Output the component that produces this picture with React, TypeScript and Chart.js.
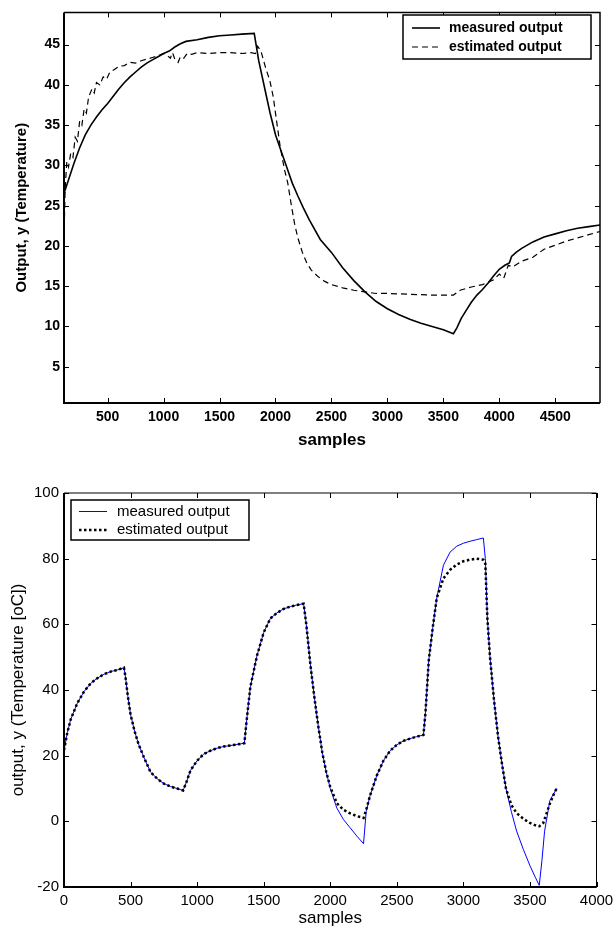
import React, { useEffect, useRef } from "react";
import { Chart, registerables } from "chart.js";

Chart.register(...registerables);

// ---------- Top chart data ----------
const TOP_X_TICKS = [500, 1000, 1500, 2000, 2500, 3000, 3500, 4000, 4500];
const TOP_Y_TICKS = [5, 10, 15, 20, 25, 30, 35, 40, 45];
const TOP_LABELS = ["measured output", "estimated output"];

const TOP_MEASURED_X = [
  110, 150, 200, 250, 300, 350, 400, 450, 500, 550, 600, 650, 700, 750, 800, 850, 900, 950, 1000,
  1050, 1100, 1150, 1200, 1300, 1400, 1500, 1600, 1700, 1810, 1850, 1900, 1950, 2000, 2050, 2100,
  2150, 2200, 2250, 2300, 2400, 2500, 2600, 2700, 2800, 2900, 3000, 3100, 3200, 3300, 3400, 3500,
  3590, 3620, 3660, 3700, 3750, 3800, 3850, 3900, 3950, 4000, 4050, 4090, 4110, 4150, 4200, 4300,
  4400, 4500, 4600, 4700, 4800, 4900,
];
const TOP_MEASURED_Y = [
  26.5, 28.2, 30.3, 32.2, 33.8, 35.0, 36.0, 36.9, 37.7, 38.6, 39.5, 40.3, 41.0, 41.6, 42.2, 42.7,
  43.1, 43.5, 43.9, 44.2, 44.7, 45.1, 45.4, 45.6, 45.9, 46.1, 46.2, 46.3, 46.4, 43.0, 39.8, 36.6,
  33.8, 31.8, 29.8, 27.8, 26.2, 24.7, 23.3, 20.8, 19.2, 17.3, 15.7, 14.3, 13.1, 12.2, 11.5, 10.9,
  10.4, 10.0, 9.6, 9.1, 9.8, 11.0, 11.9, 13.0, 13.9, 14.6, 15.4, 16.3, 17.1, 17.6, 17.9, 18.7, 19.2,
  19.7, 20.5, 21.1, 21.5, 21.9, 22.2, 22.4, 22.6,
];

const TOP_ESTIMATED_X = [
  110, 120, 135, 150, 170, 190, 210, 230, 250, 270, 290, 310, 330, 360, 380, 400, 430, 460, 490,
  520, 560, 600, 650, 700, 750, 800, 850, 900, 950, 1000, 1030, 1060, 1080, 1100, 1130, 1150, 1180,
  1210, 1250, 1300, 1400, 1500, 1600, 1700, 1780, 1820, 1840, 1870, 1910, 1950, 1980, 2010, 2040,
  2080, 2110, 2140, 2170, 2200, 2240, 2280, 2320, 2380, 2440, 2500, 2600, 2700, 2800, 2900, 3000,
  3200, 3400, 3590, 3650, 3750, 3850, 3950, 4000, 4040, 4060, 4080, 4120, 4200, 4300, 4400, 4500,
  4600, 4700, 4800, 4900,
];
const TOP_ESTIMATED_Y = [
  21.0, 27.0, 30.5, 29.8, 31.5, 31.0, 33.5, 33.0, 35.5, 35.0, 37.0, 36.5, 38.5, 39.5, 39.0, 40.3,
  40.0, 41.0, 40.7, 41.6, 41.9, 42.3, 42.4, 42.8, 42.7, 43.0, 43.2, 43.4, 43.6, 43.9, 43.7, 43.3,
  44.0, 43.2, 42.8, 43.5, 43.3, 43.9, 43.8, 44.0, 43.9, 44.0, 44.0, 43.9, 44.0, 43.9, 44.8, 44.2,
  42.2, 40.5, 38.5, 35.5, 32.5, 29.5, 27.8, 25.2, 22.8, 21.0, 19.2, 17.9, 17.0, 16.2, 15.6, 15.2,
  14.8, 14.5, 14.3, 14.1, 14.1, 14.0, 13.9, 13.9, 14.5, 14.9, 15.2, 15.8, 16.5, 16.0, 16.8, 17.6,
  17.4, 18.1, 18.6, 19.6, 20.1, 20.6, 21.0, 21.4, 21.8,
];

// ---------- Bottom chart data ----------
const BOT_X_TICKS = [0, 500, 1000, 1500, 2000, 2500, 3000, 3500, 4000];
const BOT_Y_TICKS = [-20, 0, 20, 40, 60, 80, 100];
const BOT_LABELS = ["measured output", "estimated output"];

const BOT_MEASURED_X = [
  0, 25, 50, 100, 150, 200, 250, 300, 350, 400, 450, 460, 480, 500, 530, 560, 600, 650, 700, 750,
  800, 850, 895, 920, 950, 1000, 1050, 1100, 1150, 1200, 1300, 1355, 1370, 1400, 1450, 1500, 1550,
  1600, 1650, 1700, 1750, 1800, 1820, 1850, 1880, 1910, 1940, 1970, 2000, 2050, 2100, 2150, 2200,
  2250, 2270, 2300, 2350, 2400, 2450, 2500, 2550, 2600, 2650, 2700, 2715, 2740, 2770, 2800, 2850,
  2900, 2950, 3000, 3050, 3100, 3150, 3165, 3180, 3200, 3230, 3260, 3290, 3320, 3360, 3400, 3450,
  3500, 3540, 3570, 3590, 3610, 3650, 3680, 3700,
];
const BOT_MEASURED_Y = [
  21.7, 27, 31, 36, 39.5, 42, 43.6, 44.8, 45.6, 46.1, 46.8, 44.5, 38, 32.5, 27.5, 23.5, 19.5, 15,
  13, 11.5, 10.6, 10, 9.4, 12, 15.5, 18.5, 20.5, 21.5, 22.3, 22.8, 23.4, 23.8, 30, 41, 50.5, 57.5,
  61.8, 63.5, 64.7, 65.4, 65.9, 66.3, 60, 48, 38, 29, 21, 15, 10, 4, 0.5, -2, -4.5, -6.8, 3, 8, 14,
  18.5, 21.5, 23.3, 24.5, 25.2, 25.8, 26.3, 33, 49, 59, 68, 78, 82, 83.8, 84.7, 85.3, 85.8, 86.3,
  80, 62, 50, 37, 26, 17.5, 10, 3, -3, -8.5, -13.5, -17, -19.5, -12, -3, 6.4, 8.5, 10,
];

const BOT_ESTIMATED_X = [
  0, 25, 50, 100, 150, 200, 250, 300, 350, 400, 450, 460, 480, 500, 530, 560, 600, 650, 700, 750,
  800, 850, 895, 920, 950, 1000, 1050, 1100, 1150, 1200, 1300, 1355, 1370, 1400, 1450, 1500, 1550,
  1600, 1650, 1700, 1750, 1800, 1820, 1850, 1880, 1910, 1940, 1970, 2000, 2050, 2100, 2150, 2200,
  2250, 2270, 2300, 2350, 2400, 2450, 2500, 2550, 2600, 2650, 2700, 2715, 2740, 2770, 2800, 2850,
  2900, 2950, 3000, 3050, 3100, 3150, 3165, 3180, 3200, 3230, 3260, 3290, 3320, 3360, 3400, 3450,
  3500, 3550, 3570, 3600, 3650, 3680, 3700,
];
const BOT_ESTIMATED_Y = [
  21.7, 27, 31, 36, 39.5, 42, 43.6, 44.8, 45.6, 46.1, 46.8, 44.5, 38, 32.5, 27.5, 23.5, 19.5, 15,
  13, 11.5, 10.6, 10, 9.4, 12, 15.5, 18.5, 20.5, 21.5, 22.3, 22.8, 23.4, 23.8, 30, 41, 50.5, 57.5,
  61.8, 63.5, 64.7, 65.4, 65.9, 66.3, 60, 48, 38, 29, 21, 15, 10.5, 5.5, 3.5, 2.4, 1.6, 1.0, 3.5, 8,
  14, 18.5, 21.5, 23.3, 24.5, 25.2, 25.8, 26.3, 33, 49, 59, 68, 74, 76.6, 78.2, 79.2, 79.7, 80,
  79.7, 78.5, 62, 50, 37, 26, 17.5, 10, 5, 2.5, 0.8, -0.5, -1.4, -1.5, -0.5, 5.4, 8.3, 10,
];

const pts = (xs: number[], ys: number[]) => xs.map((x, i) => ({ x, y: ys[i] }));
const FAMILY = "'Liberation Sans', Arial, Helvetica, sans-serif";

const frameTicksPlugin = {
  id: "frameTicks",
  afterDatasetsDraw(chart: any, _args: any, opts: any) {
    const { ctx, chartArea } = chart;
    const { left, right, top, bottom } = chartArea;
    const xs = chart.scales.x;
    const ys = chart.scales.y;
    const len = opts.tickLen;
    ctx.save();
    ctx.strokeStyle = "#000";
    ctx.setLineDash([]);
    ctx.lineWidth = opts.tickWidth;
    ctx.beginPath();
    xs.ticks.forEach((t: any) => {
      const p = Math.round(xs.getPixelForValue(t.value)) + 0.5;
      ctx.moveTo(p, bottom);
      ctx.lineTo(p, bottom - len);
      ctx.moveTo(p, top);
      ctx.lineTo(p, top + len);
    });
    ys.ticks.forEach((t: any) => {
      const p = Math.round(ys.getPixelForValue(t.value)) + 0.5;
      ctx.moveTo(left, p);
      ctx.lineTo(left + len, p);
      ctx.moveTo(right, p);
      ctx.lineTo(right - len, p);
    });
    ctx.stroke();
    ctx.lineWidth = opts.thin;
    ctx.beginPath();
    ctx.moveTo(left, top);
    ctx.lineTo(right, top);
    ctx.lineTo(right, bottom);
    ctx.stroke();
    ctx.lineWidth = opts.thick;
    ctx.beginPath();
    ctx.moveTo(left, top);
    ctx.lineTo(left, bottom);
    ctx.lineTo(right, bottom);
    ctx.stroke();
    ctx.restore();
  },
};

const boxLegendPlugin = {
  id: "boxLegend",
  afterDraw(chart: any, _args: any, opts: any) {
    const { ctx } = chart;
    const { box, lineX0, lineX1, textX, rowY, font, boxWidth } = opts;
    ctx.save();
    ctx.fillStyle = "#fff";
    ctx.fillRect(box.x, box.y, box.w, box.h);
    ctx.strokeStyle = "#000";
    ctx.lineWidth = boxWidth;
    ctx.setLineDash([]);
    ctx.strokeRect(box.x, box.y, box.w, box.h);
    chart.data.datasets.forEach((ds: any, i: number) => {
      const y = rowY[i];
      ctx.setLineDash(ds.borderDash || []);
      ctx.strokeStyle = ds.borderColor;
      ctx.lineWidth = ds.borderWidth;
      ctx.beginPath();
      ctx.moveTo(lineX0, y);
      ctx.lineTo(lineX1, y);
      ctx.stroke();
      ctx.setLineDash([]);
      ctx.fillStyle = "#000";
      ctx.font = font;
      ctx.textBaseline = "middle";
      ctx.textAlign = "left";
      ctx.fillText(ds.label, textX, y);
    });
    ctx.restore();
  },
};

function makeTopConfig(): any {
  const tickFont = { family: FAMILY, size: 14, weight: "bold" };
  return {
    type: "line",
    data: {
      datasets: [
        {
          label: TOP_LABELS[0],
          data: pts(TOP_MEASURED_X, TOP_MEASURED_Y),
          borderColor: "#000",
          borderWidth: 1.6,
          pointRadius: 0,
          tension: 0,
          order: 0,
        },
        {
          label: TOP_LABELS[1],
          data: pts(TOP_ESTIMATED_X, TOP_ESTIMATED_Y),
          borderColor: "#000",
          borderWidth: 1.2,
          borderDash: [6, 4],
          pointRadius: 0,
          tension: 0,
          order: 1,
        },
      ],
    },
    options: {
      responsive: false,
      animation: false,
      devicePixelRatio: 1,
      layout: { padding: { left: 0, right: 13, top: 10, bottom: 0 } },
      plugins: {
        legend: { display: false },
        tooltip: { enabled: false },
        frameTicks: { tickLen: 5, tickWidth: 1, thin: 1.5, thick: 2 },
        boxLegend: {
          box: { x: 403, y: 15, w: 188, h: 44 },
          lineX0: 412,
          lineX1: 440,
          textX: 449,
          rowY: [28, 47],
          font: `bold 14px ${FAMILY}`,
          boxWidth: 1.5,
        },
      },
      scales: {
        x: {
          type: "linear",
          min: 110,
          max: 4900,
          afterBuildTicks: (s: any) => {
            s.ticks = TOP_X_TICKS.map((v) => ({ value: v }));
          },
          afterFit: (s: any) => {
            s.height = 52;
            s.paddingLeft = 0;
            s.paddingRight = 0;
          },
          grid: { display: false, drawTicks: false },
          border: { display: false },
          ticks: {
            color: "#000",
            padding: 6,
            autoSkip: false,
            maxRotation: 0,
            font: tickFont,
            callback: (v: any) => String(v),
          },
          title: {
            display: true,
            text: "samples",
            color: "#000",
            font: { family: FAMILY, size: 17, weight: "bold" },
            padding: { top: 0, bottom: 4 },
          },
        },
        y: {
          type: "linear",
          min: 0.5,
          max: 49,
          afterBuildTicks: (s: any) => {
            s.ticks = TOP_Y_TICKS.map((v) => ({ value: v }));
          },
          afterFit: (s: any) => {
            s.width = 64;
          },
          grid: { display: false, drawTicks: false },
          border: { display: false },
          ticks: {
            color: "#000",
            padding: 4,
            autoSkip: false,
            font: tickFont,
            callback: (v: any) => String(v),
          },
          title: {
            display: true,
            text: "Output, y (Temperature)",
            color: "#000",
            font: { family: FAMILY, size: 15, weight: "bold" },
            padding: { top: 13, bottom: 0 },
          },
        },
      },
    },
    plugins: [frameTicksPlugin, boxLegendPlugin],
  };
}

function makeBottomConfig(): any {
  const tickFont = { family: FAMILY, size: 15 };
  return {
    type: "line",
    data: {
      datasets: [
        {
          label: BOT_LABELS[0],
          data: pts(BOT_MEASURED_X, BOT_MEASURED_Y),
          borderColor: "#0000ff",
          borderWidth: 1,
          pointRadius: 0,
          tension: 0,
          order: 1,
        },
        {
          label: BOT_LABELS[1],
          data: pts(BOT_ESTIMATED_X, BOT_ESTIMATED_Y),
          borderColor: "#000",
          borderWidth: 2.5,
          borderDash: [2.5, 2.5],
          pointRadius: 0,
          tension: 0,
          order: 0,
        },
      ],
    },
    options: {
      responsive: false,
      animation: false,
      devicePixelRatio: 1,
      layout: { padding: { left: 0, right: 16.5, top: 38, bottom: 0 } },
      plugins: {
        legend: { display: false },
        tooltip: { enabled: false },
        frameTicks: { tickLen: 5, tickWidth: 1, thin: 1, thick: 2 },
        boxLegend: {
          box: { x: 71, y: 45, w: 178, h: 40 },
          lineX0: 79,
          lineX1: 107,
          textX: 117,
          rowY: [56.5, 75],
          font: `15px ${FAMILY}`,
          boxWidth: 1.5,
        },
      },
      scales: {
        x: {
          type: "linear",
          min: 0,
          max: 4000,
          afterBuildTicks: (s: any) => {
            s.ticks = BOT_X_TICKS.map((v) => ({ value: v }));
          },
          afterFit: (s: any) => {
            s.height = 42;
            s.paddingLeft = 0;
            s.paddingRight = 0;
          },
          grid: { display: false, drawTicks: false },
          border: { display: false },
          ticks: {
            color: "#000",
            padding: 5,
            autoSkip: false,
            maxRotation: 0,
            font: tickFont,
            callback: (v: any) => String(v),
          },
          title: {
            display: true,
            text: "samples",
            color: "#000",
            font: { family: FAMILY, size: 17 },
            padding: { top: 0, bottom: 0 },
          },
        },
        y: {
          type: "linear",
          min: -20,
          max: 100,
          afterBuildTicks: (s: any) => {
            s.ticks = BOT_Y_TICKS.map((v) => ({ value: v }));
          },
          afterFit: (s: any) => {
            s.width = 64;
          },
          grid: { display: false, drawTicks: false },
          border: { display: false },
          ticks: {
            color: "#000",
            padding: 5,
            autoSkip: false,
            font: tickFont,
            callback: (v: any) => String(v),
          },
          title: {
            display: true,
            text: "output, y (Temperature [oC])",
            color: "#000",
            font: { family: FAMILY, size: 17 },
            padding: { top: 8, bottom: 0 },
          },
        },
      },
    },
    plugins: [frameTicksPlugin, boxLegendPlugin],
  };
}

function ChartCanvas({ makeConfig, top, height }: { makeConfig: () => any; top: number; height: number }) {
  const ref = useRef<HTMLCanvasElement>(null);
  useEffect(() => {
    const chart = new Chart(ref.current as HTMLCanvasElement, makeConfig());
    return () => chart.destroy();
  }, [makeConfig]);
  return (
    <canvas
      ref={ref}
      width={613}
      height={height}
      style={{ position: "absolute", left: 0, top, width: 613, height, display: "block" }}
    />
  );
}

export default function App() {
  return (
    <div style={{ position: "absolute", left: 0, top: 0, width: 613, height: 929, background: "#fff" }}>
      <ChartCanvas makeConfig={makeTopConfig} top={0} height={455} />
      <ChartCanvas makeConfig={makeBottomConfig} top={455} height={474} />
    </div>
  );
}
